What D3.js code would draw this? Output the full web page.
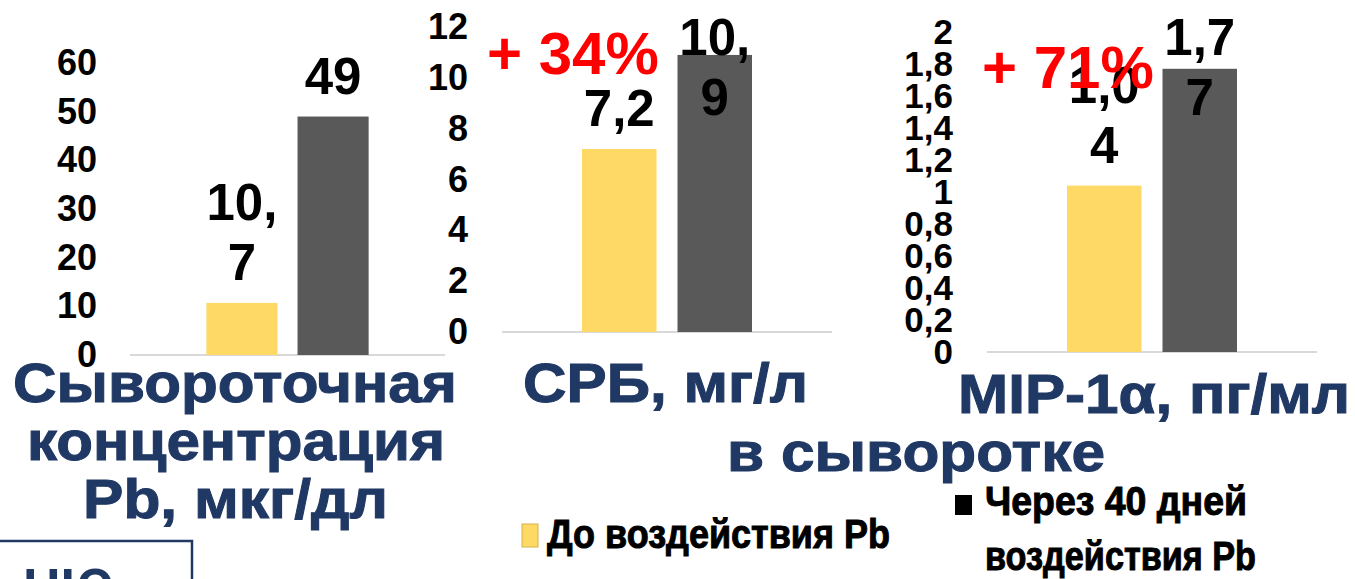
<!DOCTYPE html>
<html>
<head>
<meta charset="utf-8">
<script src="https://cdn.jsdelivr.net/npm/d3@7"></script>
<style>
    body { margin: 0; background: #fff; }
    svg { display: block; font-family: "Liberation Sans", Arial, sans-serif; font-weight: bold; }
</style>
</head>
<body>
<svg id="slide" width="1355" height="579"></svg>
<script>
const groups = ['before', 'after']
const legendLabels = [['До воздействия Pb'], ['Через 40 дней', 'воздействия Pb']]
const pbValues = [10.7, 49]
const crpValues = [7.2, 10.9]
const mipValues = [1.04, 1.77]
const pbTicks = [0, 10, 20, 30, 40, 50, 60]
const crpTicks = [0, 2, 4, 6, 8, 10, 12]
const mipTicks = [0, 0.2, 0.4, 0.6, 0.8, 1, 1.2, 1.4, 1.6, 1.8, 2]
const changeLabels = ['', '+ 34%', '+ 71%']

const colors = { before: '#fed966', after: '#595959' }
const navy = '#203864'

const svg = d3.select('#slide')

const comma = function (v) {
    return String(v).replace('.', ',')
}

// long labels wrap after 3 chars like in the original slide
const splitLabel = function (s) {
    return s.length > 3 ? [s.slice(0, 3), s.slice(3)] : [s]
}

// stretch/squeeze text to the width it has on the slide
const fitText = function (sel, width) {
    sel.attr('textLength', width).attr('lengthAdjust', 'spacingAndGlyphs')
    return sel
}

const panels = [
    { values: pbValues, ticks: pbTicks, left: 130, right: 445, top: 63, base: 355, tickX: 97, tickSize: 36 },
    { values: crpValues, ticks: crpTicks, left: 502, right: 832, top: 27, base: 332, tickX: 468, tickSize: 36 },
    { values: mipValues, ticks: mipTicks, left: 987, right: 1317, top: 32, base: 352, tickX: 953, tickSize: 35 }
]

panels.forEach((p, i) => {
    const g = svg.append('g')

    const y = d3.scaleLinear()
        .domain([0, d3.max(p.ticks)])
        .range([p.base, p.top])

    const x0 = d3.scaleBand()
        .domain(['g'])
        .range([p.left, p.right])
        .padding(0.32)

    const x1 = d3.scaleBand()
        .domain(groups)
        .range([x0('g'), x0('g') + x0.bandwidth()])
        .paddingInner(0.22)

    // y axis, labels only
    const axis = g.append('g')
        .attr('transform', `translate(${p.tickX},0)`)
        .call(d3.axisLeft(y).tickValues(p.ticks).tickSize(0).tickPadding(0).tickFormat(comma))
    axis.select('.domain').remove()
    axis.selectAll('text')
        .attr('font-size', p.tickSize)
        .attr('font-family', '"Liberation Sans", Arial, sans-serif')
        .attr('font-weight', 'bold')
        .attr('fill', '#000')

    // baseline
    g.append('line')
        .attr('x1', p.left).attr('x2', p.right)
        .attr('y1', y(0)).attr('y2', y(0))
        .attr('stroke', '#d9d9d9')
        .attr('stroke-width', 2)

    const data = groups.map((k, j) => ({ key: k, value: p.values[j] }))

    g.selectAll('rect.bar')
        .data(data)
        .join('rect')
        .attr('class', 'bar')
        .attr('x', d => x1(d.key))
        .attr('y', d => y(d.value))
        .attr('width', x1.bandwidth())
        .attr('height', d => y(0) - y(d.value))
        .attr('fill', d => colors[d.key])

    // value labels
    data.forEach(d => {
        const lines = splitLabel(comma(d.value))
        let first = y(d.value) - 23 - 60 * (lines.length - 1)
        if (first < 55) first = 55
        const t = g.append('text')
            .attr('x', x1(d.key) + x1.bandwidth() / 2)
            .attr('y', first)
            .attr('text-anchor', 'middle')
            .attr('font-size', 51)
            .attr('fill', '#000')
        lines.forEach((l, k) => {
            t.append('tspan')
                .attr('x', x1(d.key) + x1.bandwidth() / 2)
                .attr('dy', k === 0 ? 0 : 60)
                .text(l)
        })
    })

    if (changeLabels[i]) {
        g.append('text')
            .attr('x', i === 1 ? 487 : 982)
            .attr('y', i === 1 ? 74 : 88)
            .attr('font-size', 60)
            .attr('fill', '#ff0000')
            .text(changeLabels[i])
    }
})

// titles under the charts
const titles = [
    { text: 'Сывороточная', x: 13, y: 402, w: 444 },
    { text: 'концентрация', x: 27, y: 460, w: 418 },
    { text: 'Pb, мкг/дл', x: 83, y: 518, w: 305 },
    { text: 'СРБ, мг/л', x: 523, y: 402, w: 285 },
    { text: 'MIP-1α, пг/мл', x: 958, y: 413, w: 392 },
    { text: 'в сыворотке', x: 727, y: 471, w: 378 }
]

titles.forEach(t => {
    fitText(svg.append('text')
        .attr('x', t.x)
        .attr('y', t.y)
        .attr('font-size', 55)
        .attr('fill', navy)
        .attr('stroke', navy)
        .attr('stroke-width', 1)
        .text(t.text), t.w)
})

// legend
const legend = svg.append('g')
legend.append('rect')
    .attr('x', 522).attr('y', 524).attr('width', 16).attr('height', 23)
    .attr('fill', colors.before).attr('stroke', '#d6b24a').attr('stroke-width', 1)
fitText(legend.append('text')
    .attr('x', 547).attr('y', 548)
    .attr('font-size', 41)
    .attr('stroke', '#000').attr('stroke-width', 1)
    .text(legendLabels[0][0]), 343)

legend.append('rect')
    .attr('x', 955).attr('y', 495).attr('width', 17).attr('height', 20)
    .attr('fill', '#000')
fitText(legend.append('text')
    .attr('x', 985).attr('y', 515)
    .attr('font-size', 41)
    .attr('stroke', '#000').attr('stroke-width', 1)
    .text(legendLabels[1][0]), 262)
fitText(legend.append('text')
    .attr('x', 985).attr('y', 570)
    .attr('font-size', 41)
    .attr('stroke', '#000').attr('stroke-width', 1)
    .text(legendLabels[1][1]), 271)

// framed box cut by the slide edge, bottom left
svg.append('rect')
    .attr('x', -2).attr('y', 541).attr('width', 194).attr('height', 60)
    .attr('fill', 'none').attr('stroke', navy).attr('stroke-width', 2.5)
svg.append('text')
    .attr('x', 23).attr('y', 605)
    .attr('font-size', 52)
    .attr('fill', navy)
    .text('НЮ')
</script>
</body>
</html>
